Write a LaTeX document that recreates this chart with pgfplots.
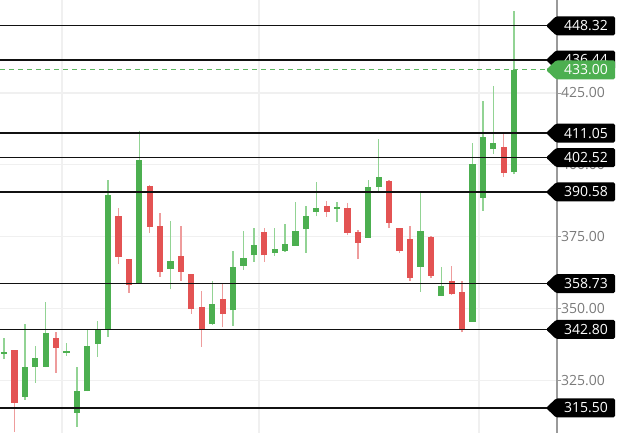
\documentclass[border=0pt]{standalone}
\usepackage{pgfplots}
\pgfplotsset{compat=1.18}
\usepackage{pgfplotstable}
\usepackage{fontspec}
\setmainfont{Open Sans}
\definecolor{upc}{HTML}{4CAF50}
\definecolor{upw}{HTML}{92D394}
\definecolor{dnc}{HTML}{E35353}
\definecolor{dnw}{HTML}{EE9C9C}
\definecolor{gridc}{HTML}{F0F0F0}
\definecolor{axisc}{HTML}{9A9A9A}
\definecolor{tickc}{HTML}{7A7A7A}
\definecolor{lvl}{HTML}{111111}
\definecolor{dashg}{HTML}{5DB761}

\pgfplotstableread{
i o h l c
0 334.2 339.8 332.5 334.9
2 319.4 344.6 318.3 329.6
3 329.8 337.0 324.3 332.8
4 329.8 352.2 329.6 341.4
6 334.6 338.0 333.7 335.2
7 313.8 329.6 309.0 321.5
8 321.3 342.6 321.3 337.0
9 337.8 345.7 333.3 342.6
10 342.6 394.7 340.3 389.5
13 359.0 411.8 358.8 401.7
16 363.8 380.5 356.7 366.6
20 344.6 359.7 344.4 351.5
22 349.4 370.1 344.1 364.4
23 365.0 377.0 363.5 367.5
24 368.5 378.0 366.3 372.3
26 369.5 378.0 368.4 370.7
27 370.1 379.3 369.8 372.4
28 371.9 387.0 371.8 377.0
29 377.6 385.7 369.5 382.3
30 383.7 394.0 382.1 384.9
32 384.7 387.0 380.3 385.3
35 374.7 394.9 374.6 392.2
36 392.4 408.9 391.0 395.7
40 364.6 390.9 355.9 377.1
42 354.5 364.6 354.4 358.0
45 345.5 407.5 345.4 400.2
46 388.6 422.3 384.1 409.6
47 405.5 427.4 403.7 407.5
49 397.4 453.5 396.7 433.0
}\up

\pgfplotstableread{
i o h l c
1 335.6 335.8 307.1 317.3
5 339.7 341.8 327.8 336.4
11 382.2 384.9 365.5 368.1
12 367.2 367.4 355.6 358.2
14 392.8 393.0 376.4 378.5
15 378.8 383.2 361.1 362.9
17 368.3 378.8 359.7 362.9
18 362.0 362.2 348.2 349.9
19 350.5 356.3 336.8 342.9
21 353.3 358.8 343.5 348.2
25 376.6 378.0 366.3 368.5
31 385.8 387.4 382.0 383.7
33 384.9 386.6 375.6 376.4
34 376.7 377.5 367.2 373.0
37 394.4 394.6 378.0 379.9
38 378.0 378.2 369.3 370.2
39 374.1 378.8 359.7 360.8
41 374.8 375.3 360.6 361.5
43 359.6 364.8 354.9 355.0
44 355.7 359.6 341.8 342.6
48 406.3 410.7 395.9 397.3
}\dn

\newcommand{\lvlline}[1]{\addplot[lvl, line width=1.2pt] coordinates {(-0.384,#1) (53.12,#1)};}
\newcommand{\pricetag}[3]{%
  \fill[#2, rounded corners=1.5pt] ([xshift=-11pt]axis cs:53.12,#1) -- ([xshift=-1pt,yshift=9.5pt]axis cs:53.12,#1) -- ([xshift=58pt,yshift=9.5pt]axis cs:53.12,#1) -- ([xshift=58pt,yshift=-9.5pt]axis cs:53.12,#1) -- ([xshift=-1pt,yshift=-9.5pt]axis cs:53.12,#1) -- cycle;
  \node[anchor=west, text=white, inner sep=0pt, font=\fontsize{14}{14}\selectfont] at ([xshift=7pt]axis cs:53.12,#1) {#3};
}
\pgfplotsset{candle/.style={draw=none, mark=none, error bars/.cd, y dir=plus, y explicit, error mark=none}}

\begin{document}
\begin{tikzpicture}
\useasboundingbox (0,0) rectangle (625pt,433pt);
\begin{axis}[
  at={(0,0)}, anchor=south west,
  width=557pt, height=433pt, scale only axis,
  xmin=-0.384, xmax=53.12, ymin=306.8, ymax=457.3,
  clip=false,
  no markers,
  axis x line=none,
  axis y line*=right,
  axis line style={draw=axisc, line width=1.3pt, -},
  ytick={325,350,375,400,425},
  tick align=outside, major tick length=4pt,
  tick style={draw=axisc, line width=0.8pt},
  ymajorgrids, grid style={draw=gridc, line width=1.3pt},
  yticklabel style={font=\fontsize{14}{14}\selectfont, text=tickc, inner sep=0pt, anchor=west},
  /pgf/number format/assume math mode=true,
  y tick label style={/pgf/number format/.cd, fixed, fixed zerofill, precision=2, 1000 sep={}},
]
% vertical grid lines
\addplot[gridc, line width=1.6pt] coordinates {(5.55,306.8) (5.55,457.3)};
\addplot[gridc, line width=1.6pt] coordinates {(24.5,306.8) (24.5,457.3)};
\addplot[gridc, line width=1.6pt] coordinates {(45.6,306.8) (45.6,457.3)};
% wicks
\addplot[candle, error bar style={draw=upw, line width=1.4pt}]
  table[x=i, y=l, y error plus expr=\thisrow{h}-\thisrow{l}] {\up};
\addplot[candle, error bar style={draw=dnw, line width=1.4pt}]
  table[x=i, y=l, y error plus expr=\thisrow{h}-\thisrow{l}] {\dn};
% bodies
\addplot[candle, error bar style={draw=upc, line width=6.2pt}]
  table[x=i, y=o, y error plus expr=\thisrow{c}-\thisrow{o}] {\up};
\addplot[candle, error bar style={draw=dnc, line width=6.2pt}]
  table[x=i, y=c, y error plus expr=\thisrow{o}-\thisrow{c}] {\dn};
% level lines
\lvlline{448.32}
\lvlline{436.44}
\lvlline{411.05}
\lvlline{402.52}
\lvlline{390.58}
\lvlline{358.73}
\lvlline{342.80}
\lvlline{315.50}
\addplot[dashg, line width=1pt, dash pattern=on 5pt off 4pt] coordinates {(-0.384,433.00) (53.12,433.00)};
% tags
\pricetag{448.32}{black}{448.32}
\pricetag{436.44}{black}{436.44}
\pricetag{411.05}{black}{411.05}
\pricetag{402.52}{black}{402.52}
\pricetag{390.58}{black}{390.58}
\pricetag{358.73}{black}{358.73}
\pricetag{342.80}{black}{342.80}
\pricetag{315.50}{black}{315.50}
\pricetag{433.00}{upc}{433.00}
\end{axis}
\end{tikzpicture}
\end{document}
